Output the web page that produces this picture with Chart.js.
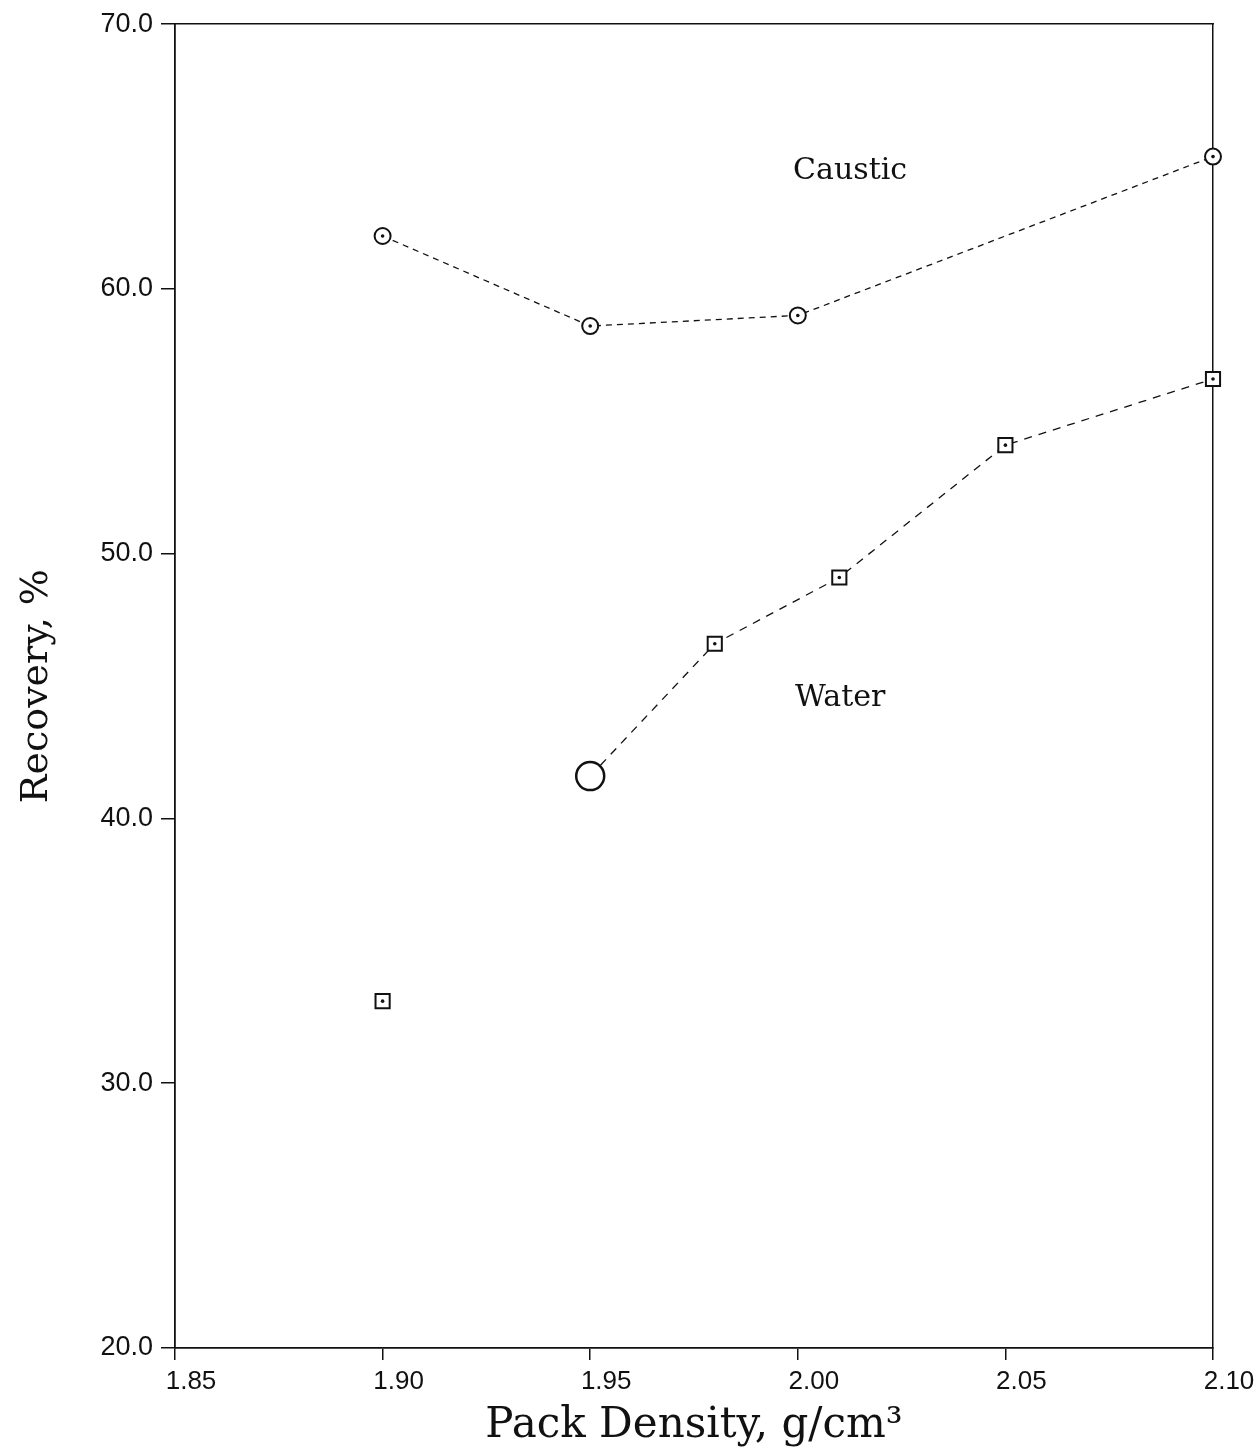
<!DOCTYPE html>
<html>
<head>
<meta charset="utf-8">
<title>Recovery vs Pack Density</title>
<script src="https://cdn.jsdelivr.net/npm/chart.js@4.4.1/dist/chart.umd.min.js"></script>
<style>
  html, body { margin: 0; padding: 0; background: #fff; }
  #chart { display: block; }
</style>
</head>
<body>
<canvas id="chart" width="1257" height="1455"></canvas>
<script>
// values
const causticDensity = [1.90, 1.95, 2.00, 2.10];
const causticRecovery = [62.0, 58.6, 59.0, 65.0];

const waterDensity = [1.95, 1.98, 2.01, 2.05, 2.10];
const waterRecovery = [41.6, 46.6, 49.1, 54.1, 56.6];

// lone square below the water curve
const strayDensity = [1.90];
const strayRecovery = [33.1];

const xTickValues = [1.85, 1.90, 1.95, 2.00, 2.05, 2.10];
const yTickValues = [20, 30, 40, 50, 60, 70];

const curveNames = ['Caustic', 'Water'];
const curveNameDensity = [2.0126, 2.0102];
const curveNameRecovery = [64.46, 44.53];

const INK = '#111';

const toPoints = (xs, ys) => xs.map((x, i) => ({x: x, y: ys[i]}));

// dot in the middle of every marker (order 0 => drawn on top)
const centreDots = (xs, ys) => ({
  data: toPoints(xs, ys),
  order: 0,
  showLine: false,
  pointStyle: 'circle',
  pointRadius: 1.8,
  pointBorderWidth: 0,
  pointBackgroundColor: INK,
  clip: false,
});

const curveLabels = {
  id: 'curveLabels',
  afterDatasetsDraw(chart) {
    const {ctx, scales} = chart;
    ctx.save();
    ctx.fillStyle = INK;
    ctx.font = '30px "DejaVu Serif"';
    ctx.textAlign = 'center';
    ctx.textBaseline = 'middle';
    curveNames.forEach((name, i) => {
      ctx.fillText(name,
        scales.x.getPixelForValue(curveNameDensity[i]),
        scales.y.getPixelForValue(curveNameRecovery[i]));
    });
    ctx.restore();
  },
};

const frameAxis = (position, horizontal) => ({
  type: 'linear',
  position: position,
  min: horizontal ? 1.85 : 20,
  max: horizontal ? 2.10 : 70,
  ticks: {display: false},
  grid: {display: true, drawOnChartArea: false, drawTicks: false, tickLength: 0},
  border: {display: true, color: INK, width: 1.5, dash: [16, 5]},
  afterFit: (s) => {
    if (horizontal) s.height = 0; else s.width = 0;
  },
});

new Chart(document.getElementById('chart'), {
  type: 'scatter',
  data: {
    datasets: [
      {
        label: 'Caustic',
        data: toPoints(causticDensity, causticRecovery),
        order: 1,
        showLine: true,
        borderColor: INK,
        borderWidth: 1.3,
        borderDash: [6, 5],
        pointStyle: 'circle',
        pointRadius: 8,
        pointBorderWidth: 2,
        pointBorderColor: INK,
        pointBackgroundColor: '#fff',
        clip: false,
      },
      centreDots(causticDensity, causticRecovery),
      {
        label: 'Water',
        data: toPoints(waterDensity, waterRecovery),
        order: 1,
        showLine: true,
        borderColor: INK,
        borderWidth: 1.3,
        borderDash: [8, 7],
        pointStyle: (c) => (c.dataIndex === 0 ? 'circle' : 'rect'),
        pointRadius: (c) => (c.dataIndex === 0 ? 14 : 10),
        pointBorderWidth: (c) => (c.dataIndex === 0 ? 2.5 : 2),
        pointBorderColor: INK,
        pointBackgroundColor: '#fff',
        clip: false,
      },
      centreDots(waterDensity.slice(1), waterRecovery.slice(1)),
      {
        label: 'Water (single)',
        data: toPoints(strayDensity, strayRecovery),
        order: 1,
        showLine: false,
        pointStyle: 'rect',
        pointRadius: 10,
        pointBorderWidth: 2,
        pointBorderColor: INK,
        pointBackgroundColor: '#fff',
        clip: false,
      },
      centreDots(strayDensity, strayRecovery),
    ],
  },
  options: {
    responsive: false,
    animation: false,
    layout: {padding: {top: 21, right: 44, left: 0, bottom: 0}},
    plugins: {
      legend: {display: false},
      tooltip: {enabled: false},
    },
    scales: {
      x: {
        type: 'linear',
        position: 'bottom',
        min: 1.85,
        max: 2.10,
        afterBuildTicks: (s) => { s.ticks = xTickValues.map((v) => ({value: v})); },
        afterFit: (s) => { s.height = 1455 - 1348; },
        ticks: {
          autoSkip: false,
          maxRotation: 0,
          labelOffset: 16,
          padding: 6,
          color: INK,
          font: {family: '"Liberation Sans"', size: 26},
          callback: (v) => Number(v).toFixed(2),
        },
        grid: {drawOnChartArea: false, drawTicks: true, tickLength: 12, color: INK, lineWidth: 1.5},
        border: {display: true, color: INK, width: 1.8, dash: [18, 3]},
        title: {
          display: true,
          text: 'Pack Density, g/cm³',
          color: INK,
          font: {family: '"DejaVu Serif"', size: 42},
          padding: {top: 0, bottom: 4},
        },
      },
      y: {
        type: 'linear',
        position: 'left',
        min: 20,
        max: 70,
        afterBuildTicks: (s) => { s.ticks = yTickValues.map((v) => ({value: v})); },
        afterFit: (s) => { s.width = 175; },
        ticks: {
          padding: 8,
          color: INK,
          font: {family: '"Liberation Sans"', size: 27},
          callback: (v) => Number(v).toFixed(1),
        },
        grid: {drawOnChartArea: false, drawTicks: true, tickLength: 14, color: INK, lineWidth: 1.5},
        border: {display: true, color: INK, width: 1.8, dash: [18, 3]},
        title: {
          display: true,
          text: 'Recovery, %',
          color: INK,
          font: {family: '"DejaVu Serif"', size: 38},
          padding: {top: 14, bottom: 0},
        },
      },
      x2: frameAxis('top', true),
      y2: frameAxis('right', false),
    },
  },
  plugins: [curveLabels],
});
</script>
</body>
</html>
